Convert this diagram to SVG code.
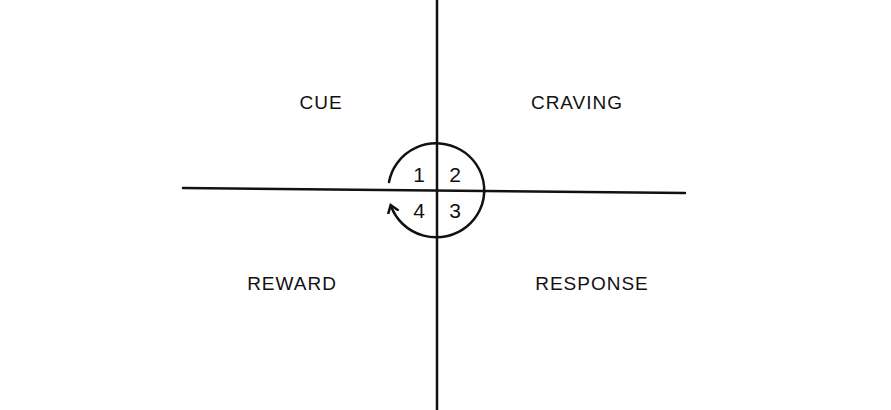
<svg xmlns="http://www.w3.org/2000/svg" width="891" height="410" viewBox="0 0 891 410">
<style>
.l{font-family:"Liberation Sans",sans-serif;font-size:19px;fill:#111;text-anchor:middle;letter-spacing:1px}
.n{font-family:"Liberation Sans",sans-serif;font-size:21px;fill:#111;text-anchor:middle}
.s{stroke:#111;stroke-width:2.5;fill:none;stroke-linecap:round}
</style>
<defs><marker id="a" markerWidth="12" markerHeight="12" refX="7" refY="6" orient="auto" markerUnits="userSpaceOnUse"><path d="M1,1 L8,6 L1,11" class="s" stroke-width="2.2"/></marker></defs>
<rect width="891" height="410" fill="#fff"/>
<g id="connectors">
<line class="s" x1="437" y1="0" x2="437" y2="410"/>
<line class="s" x1="183" y1="188" x2="685" y2="193"/>
<path class="s" d="M389,182 A48,47 0 1 1 391,206" marker-end="url(#a)"/>
</g>
<g id="cue"><text class="l" x="321" y="109">CUE</text></g>
<g id="craving"><text class="l" x="577" y="109">CRAVING</text></g>
<g id="reward"><text class="l" x="292" y="290">REWARD</text></g>
<g id="response"><text class="l" x="592" y="290">RESPONSE</text></g>
<g id="q1"><text class="n" x="419" y="182">1</text></g>
<g id="q2"><text class="n" x="455" y="182">2</text></g>
<g id="q3"><text class="n" x="455" y="218">3</text></g>
<g id="q4"><text class="n" x="419" y="218">4</text></g>
</svg>
